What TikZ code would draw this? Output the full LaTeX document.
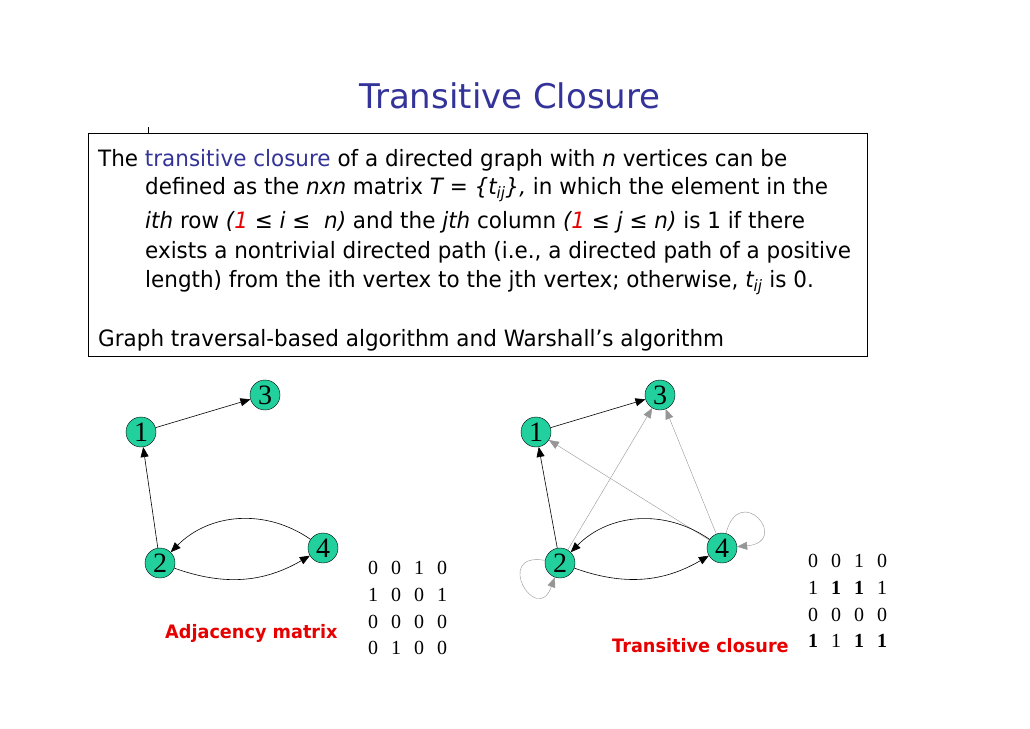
\documentclass[tikz,border=0pt]{standalone}
\usepackage{fontspec}
\setmainfont{DejaVu Sans}[FakeStretch=0.955]
\newfontfamily\titlefont{DejaVu Sans}
\newfontfamily\numfont{Liberation Serif}
\usetikzlibrary{arrows.meta}

\definecolor{titleblue}{RGB}{51,51,153}
\definecolor{vertexgreen}{RGB}{34,208,158}
\definecolor{labelred}{RGB}{230,0,0}
\definecolor{thingray}{RGB}{150,150,150}

\begin{document}
\begin{tikzpicture}[
  x=1pt, y=-1pt,
  >={Triangle[length=10pt,width=8pt]},
  vertex/.style={circle, draw, fill=vertexgreen, minimum size=30pt, inner sep=0pt, font=\numfont\fontsize{28}{28}\selectfont},
  line/.style={anchor=base west, inner sep=0pt, font=\fontsize{22.5}{22.5}\selectfont},
  edge/.style={->, line width=0.6pt},
  faint/.style={->, line width=0.4pt, draw=thingray},
  caption/.style={font=\fontsize{18.5}{18.5}\selectfont\bfseries, text=labelred, anchor=base west, inner sep=0pt},
  mat/.style={font=\numfont\fontsize{20}{26.7}\selectfont, anchor=north west, inner sep=0pt}
]
\useasboundingbox (0,0) rectangle (1030,728);

\node[font=\titlefont\fontsize{34}{34}\selectfont, text=titleblue, anchor=base] (title) at (510,108) {Transitive Closure};

\draw (148,127) -- (148,133);
\draw[fill=white] (88,133) rectangle (867,356);

% definition text, one node per line
\node[line] (l1) at (98,166) {The \textcolor{titleblue}{transitive closure} of a directed graph with \textit{n} vertices can be};
\node[line] (l2) at (145,194) {defined as the \textit{nxn} matrix \textit{T = \{t\textsubscript{ij}\},} in which the element in the};
\node[line] (l3) at (145,228) {\textit{ith} row \textit{(\textcolor{labelred}{1} ≤ i ≤~~n)} and the \textit{jth} column \textit{(\textcolor{labelred}{1} ≤ j ≤ n)} is 1 if there};
\node[line] (l4) at (145,258) {exists a nontrivial directed path (i.e., a directed path of a positive};
\node[line] (l5) at (145,287) {length) from the ith vertex to the jth vertex; otherwise, \textit{t\textsubscript{ij}} is 0.};
\node[line] (l6) at (98,346) {Graph traversal-based algorithm and Warshall’s algorithm};

% adjacency graph
\node[vertex] (a1) at (141,432) {1};
\node[vertex] (a3) at (265,395) {3};
\node[vertex] (a2) at (160,563) {2};
\node[vertex] (a4) at (323,548) {4};

\draw[edge] (a1) -- (a3);
\draw[edge] (a2) -- (a1);
\draw[edge] (a4) to[bend right=40] (a2);
\draw[edge] (a2) to[bend right=25] (a4);

\node[mat] (adj) at (368,556) {\begin{tabular}{@{}c@{\hspace{13pt}}c@{\hspace{13pt}}c@{\hspace{13pt}}c@{}}
0&0&1&0\\ 1&0&0&1\\ 0&0&0&0\\ 0&1&0&0
\end{tabular}};
\node[caption] (adjlabel) at (165,638) {Adjacency matrix};

% closure graph
\node[vertex] (c1) at (536,432) {1};
\node[vertex] (c3) at (660,395) {3};
\node[vertex] (c2) at (560,563) {2};
\node[vertex] (c4) at (722,548) {4};

\draw[edge] (c1) -- (c3);
\draw[edge] (c2) -- (c1);
\draw[faint] (c2) -- (c3);
\draw[faint] (c4) -- (c1);
\draw[faint] (c4) -- (c3);
\draw[edge] (c4) to[bend right=40] (c2);
\draw[edge] (c2) to[bend right=25] (c4);
\draw[faint] (c2) to[out=170, in=250, looseness=7] (c2);
\draw[faint] (c4) to[out=75, in=5, looseness=8] (c4);

\node[mat] (clo) at (808,549) {\begin{tabular}{@{}c@{\hspace{13pt}}c@{\hspace{13pt}}c@{\hspace{13pt}}c@{}}
0&0&1&0\\ 1&\textbf{1}&\textbf{1}&1\\ 0&0&0&0\\ \textbf{1}&1&\textbf{1}&\textbf{1}
\end{tabular}};
\node[caption] (clolabel) at (612,652) {Transitive closure};
\end{tikzpicture}
\end{document}
